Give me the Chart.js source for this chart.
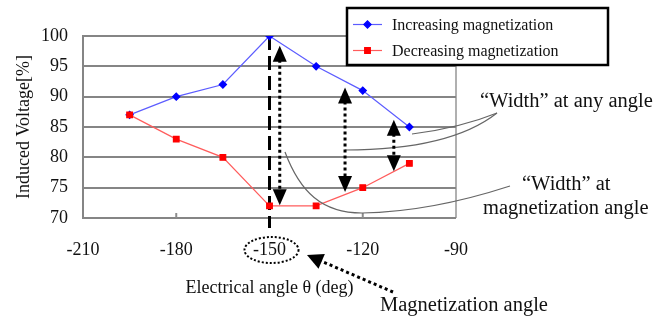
<!DOCTYPE html>
<html>
<head>
<meta charset="utf-8">
<script src="https://cdn.jsdelivr.net/npm/chart.js@4.4.1/dist/chart.umd.min.js"></script>
<style>
  html, body { margin: 0; padding: 0; background: #fff; }
  #wrap { width: 672px; height: 320px; position: relative; }
</style>
</head>
<body>
<div id="wrap"><canvas id="chart"></canvas></div>
<script>
// electrical angle (deg) of each measurement
const angles = [-195, -180, -165, -150, -135, -120, -105];
// induced voltage [%]
const increasing = [87, 90, 92, 100, 95, 91, 85];
const decreasing = [87, 83, 80, 72, 72, 75, 79];

const seriesNames = ['Increasing magnetization', 'Decreasing magnetization'];
const xTicks = [-210, -180, -150, -120, -90];
const yTicks = [70, 75, 80, 85, 90, 95, 100];

const magnetAngle = -150;
// "width" arrows: [angle, top, bottom]
const widthArrows = [[-146.7, 98.4, 72.1], [-125.7, 91.5, 74.3], [-110, 86.2, 77.7]];

const serif = '"Liberation Serif", "Times New Roman", serif';

function toPoints(ys) {
    return angles.map((a, i) => ({x: a, y: ys[i]}));
}

function arrowHead(ctx, tx, ty, dx, dy, len, half) {
    // tip at (tx,ty), pointing along (dx,dy)
    const l = Math.hypot(dx, dy);
    const ux = dx / l, uy = dy / l;
    const bx = tx - ux * len, by = ty - uy * len;
    ctx.beginPath();
    ctx.moveTo(tx, ty);
    ctx.lineTo(bx - uy * half, by + ux * half);
    ctx.lineTo(bx + uy * half, by - ux * half);
    ctx.closePath();
    ctx.fill();
}

const annotations = {
    id: 'annotations',
    beforeDatasetsDraw(chart) {
        const {ctx, scales: {x, y}} = chart;
        ctx.save();
        // small inner ticks on the bottom axis
        ctx.strokeStyle = '#8c8c8c';
        ctx.lineWidth = 2;
        [-180, -120].forEach(v => {
            const px = x.getPixelForValue(v);
            ctx.beginPath();
            ctx.moveTo(px, y.bottom);
            ctx.lineTo(px, y.bottom - 5);
            ctx.stroke();
        });
        // magnetization angle
        ctx.strokeStyle = '#000';
        ctx.lineWidth = 3;
        ctx.setLineDash([14, 6]);
        const px = x.getPixelForValue(magnetAngle);
        ctx.beginPath();
        ctx.moveTo(px, y.getPixelForValue(100));
        ctx.lineTo(px, y.getPixelForValue(70) + 10);
        ctx.stroke();
        ctx.restore();
    },
    afterDatasetsDraw(chart) {
        const {ctx, scales: {x, y}} = chart;
        ctx.save();
        // gray leader lines
        ctx.strokeStyle = '#666';
        ctx.lineWidth = 1.2;
        ctx.beginPath();
        ctx.moveTo(285, 152);
        ctx.bezierCurveTo(300, 192, 322, 213, 362, 213);
        ctx.quadraticCurveTo(430, 212, 510, 186);
        ctx.stroke();
        ctx.beginPath();
        ctx.moveTo(412, 134);
        ctx.quadraticCurveTo(460, 128, 497, 113);
        ctx.stroke();
        ctx.beginPath();
        ctx.moveTo(345, 150);
        ctx.quadraticCurveTo(450, 150, 497, 113);
        ctx.stroke();

        // dotted double arrows
        ctx.fillStyle = '#000';
        ctx.strokeStyle = '#000';
        widthArrows.forEach(([a, top, bot]) => {
            const px = x.getPixelForValue(a);
            const t = y.getPixelForValue(top), b = y.getPixelForValue(bot);
            ctx.lineWidth = 3;
            ctx.setLineDash([3, 3]);
            ctx.beginPath();
            ctx.moveTo(px, t + 14);
            ctx.lineTo(px, b - 14);
            ctx.stroke();
            ctx.setLineDash([]);
            arrowHead(ctx, px, t, 0, -1, 16, 7);
            arrowHead(ctx, px, b, 0, 1, 16, 7);
        });

        // dotted ellipse round the magnetization angle tick
        const ex = x.getPixelForValue(magnetAngle) + 2;
        ctx.lineWidth = 2;
        ctx.setLineDash([2, 2]);
        ctx.beginPath();
        ctx.ellipse(ex, 250, 27, 13, 0, 0, Math.PI * 2);
        ctx.stroke();

        // arrow from "Magnetization angle"
        ctx.lineWidth = 3;
        ctx.setLineDash([3, 3]);
        ctx.beginPath();
        ctx.moveTo(393, 292);
        ctx.lineTo(321, 261);
        ctx.stroke();
        ctx.setLineDash([]);
        arrowHead(ctx, 307, 255, -86, -37, 16, 8);

        // labels
        ctx.fillStyle = '#111';
        ctx.font = '20.5px ' + serif;
        ctx.textBaseline = 'middle';
        ctx.textAlign = 'left';
        ctx.fillText('\u201cWidth\u201d at any angle', 480, 102);
        ctx.fillText('\u201cWidth\u201d at', 522, 185);
        ctx.fillText('magnetization angle', 483, 209);
        ctx.fillText('Magnetization angle', 380, 306);
        ctx.restore();
    },
    afterDraw(chart) {
        // boxed legend
        const {ctx} = chart;
        ctx.save();
        ctx.fillStyle = '#fff';
        ctx.fillRect(347, 8, 261, 57);
        ctx.strokeStyle = '#000';
        ctx.lineWidth = 2.5;
        ctx.strokeRect(347, 8, 261, 57);
        const rows = [24.5, 50.5];
        chart.data.datasets.forEach((ds, i) => {
            const yy = rows[i];
            ctx.strokeStyle = ds.borderColor;
            ctx.lineWidth = 1.2;
            ctx.beginPath();
            ctx.moveTo(353, yy);
            ctx.lineTo(382, yy);
            ctx.stroke();
            ctx.fillStyle = ds.pointBackgroundColor;
            ctx.strokeStyle = ds.pointBorderColor;
            Chart.helpers.drawPoint(ctx, {
                pointStyle: ds.pointStyle, radius: ds.pointRadius, borderWidth: 1
            }, 367.5, yy);
            ctx.fillStyle = '#111';
            ctx.font = '16px ' + serif;
            ctx.textBaseline = 'middle';
            ctx.fillText(seriesNames[i], 392, yy + 1);
        });
        ctx.restore();
    }
};

new Chart(document.getElementById('chart'), {
    type: 'scatter',
    data: {
        datasets: [{
            label: seriesNames[0],
            data: toPoints(increasing),
            showLine: true,
            borderColor: '#5c5cff',
            borderWidth: 1.2,
            pointStyle: 'rectRot',
            pointRadius: 3.6,
            pointBackgroundColor: '#0000ff',
            pointBorderColor: '#0000ff',
            order: 1
        }, {
            label: seriesNames[1],
            data: toPoints(decreasing),
            showLine: true,
            borderColor: '#ff5c5c',
            borderWidth: 1.2,
            pointStyle: 'rect',
            pointRadius: 4,
            pointBackgroundColor: '#ff0000',
            pointBorderColor: '#ff0000',
            order: 0
        }]
    },
    options: {
        responsive: true,
        maintainAspectRatio: false,
        animation: false,
        layout: {padding: {top: 36, right: 216, left: 0, bottom: 0}},
        plugins: {legend: {display: false}, tooltip: {enabled: false}},
        scales: {
            x: {
                type: 'linear',
                min: -210,
                max: -90,
                afterFit: (s) => { s.height = 102; },
                afterBuildTicks: (s) => { s.ticks = xTicks.map(v => ({value: v})); },
                ticks: {
                    padding: 21,
                    color: '#111',
                    font: {family: serif, size: 18}
                },
                grid: {
                    drawTicks: false,
                    lineWidth: 2,
                    color: (c) => c.tick && c.tick.value === -90 ? '#b0b0b0' : 'rgba(0,0,0,0)'
                },
                border: {display: false},
                title: {
                    display: true,
                    text: 'Electrical angle \u03b8 (deg)',
                    color: '#111',
                    font: {family: serif, size: 18},
                    padding: {top: 0, bottom: 21}
                }
            },
            y: {
                min: 70,
                max: 100,
                afterFit: (s) => { s.width = 83; },
                afterBuildTicks: (s) => { s.ticks = yTicks.map(v => ({value: v})); },
                ticks: {
                    padding: 15,
                    color: '#111',
                    font: {family: serif, size: 18}
                },
                grid: {drawTicks: false, lineWidth: 2, color: '#858585'},
                border: {display: true, color: '#858585', width: 2},
                title: {
                    display: true,
                    text: 'Induced Voltage[%]',
                    color: '#111',
                    font: {family: serif, size: 18},
                    padding: {top: 13, bottom: 0}
                }
            }
        }
    },
    plugins: [annotations]
});
</script>
</body>
</html>
